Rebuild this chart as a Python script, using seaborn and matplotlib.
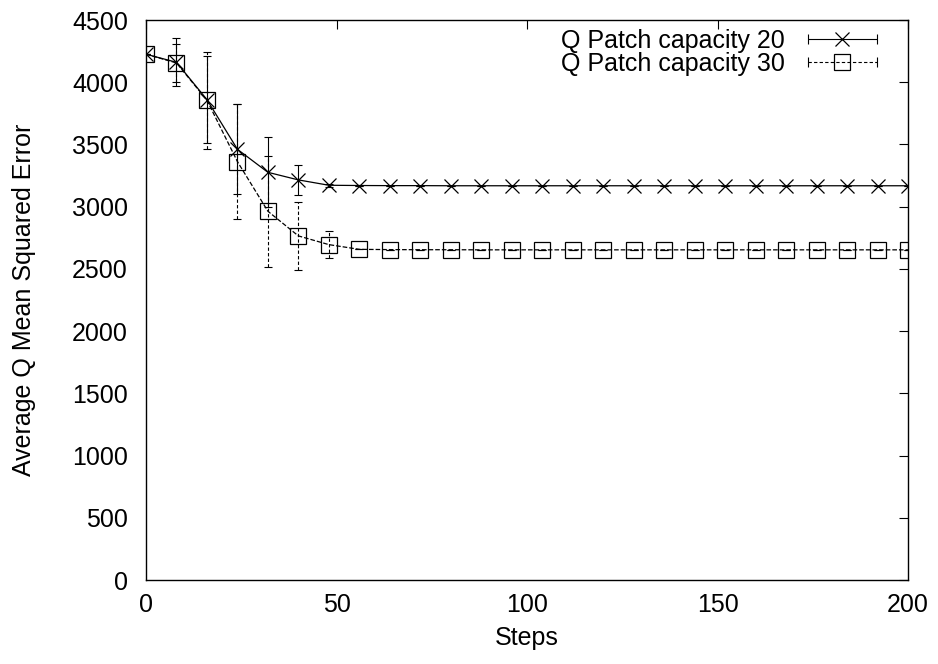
import numpy as np
import pandas as pd
import seaborn as sns
import matplotlib.pyplot as plt
from matplotlib.lines import Line2D
from matplotlib.legend_handler import HandlerBase

# Steps at which the error was measured
steps = list(range(0, 201, 8))

# Q Patch capacity 20: mean and spread
cap20_mean = [4225, 4160, 3860, 3461, 3276, 3215, 3172, 3170, 3169, 3169,
              3168, 3168, 3168, 3168, 3168, 3168, 3168, 3168, 3168, 3168,
              3168, 3168, 3168, 3168, 3168, 3168]
cap20_err = [0, 192, 348, 362, 282, 123, 10, 0, 0, 0,
             0, 0, 0, 0, 0, 0, 0, 0, 0, 0,
             0, 0, 0, 0, 0, 0]

# Q Patch capacity 30: mean and spread
cap30_mean = [4225, 4155, 3855, 3362, 2963, 2765, 2695, 2657, 2655, 2654,
              2654, 2653, 2653, 2653, 2653, 2653, 2653, 2653, 2653, 2653,
              2653, 2653, 2653, 2653, 2653, 2653]
cap30_err = [0, 150, 390, 463, 445, 275, 108, 0, 0, 0,
             0, 0, 0, 0, 0, 0, 0, 0, 0, 0,
             0, 0, 0, 0, 0, 0]

labels = ['Q Patch capacity 20', 'Q Patch capacity 30']

df = pd.DataFrame({
    'Steps': steps * 2,
    'MSE': cap20_mean + cap30_mean,
    'err': cap20_err + cap30_err,
    'series': [labels[0]] * len(steps) + [labels[1]] * len(steps),
})

FS = 18

sns.set_style('white')
plt.rcParams['font.family'] = ['Liberation Sans', 'DejaVu Sans']
plt.rcParams['font.size'] = FS
plt.rcParams['text.color'] = 'black'
plt.rcParams['axes.labelcolor'] = 'black'


# gnuplot-like legend sample: line with caps at both ends and marker in the middle
class CapHandler(HandlerBase):
    def __init__(self, ls, marker, ms):
        super().__init__()
        self.ls = ls
        self.marker = marker
        self.ms = ms

    def create_artists(self, legend, orig_handle, xdescent, ydescent,
                       width, height, fontsize, trans):
        y = height / 2 - ydescent
        x0, x1 = -xdescent, width - xdescent
        line = Line2D([x0, x1], [y, y], color='black', lw=0.8, ls=self.ls)
        caps = Line2D([x0, x1], [y, y], ls='none', marker='|', ms=6.5,
                      mew=0.8, color='black')
        mk = Line2D([(x0 + x1) / 2], [y], ls='none', marker=self.marker,
                    ms=self.ms, mew=0.9, mfc='none', mec='black')
        for a in (line, caps, mk):
            a.set_transform(trans)
        return [line, caps, mk]


fig = plt.figure(figsize=(9.38, 6.64), dpi=100)
ax = fig.add_axes([146 / 938, 1 - 580 / 664, 762 / 938, 560 / 664])

styles = {labels[0]: ('-', 'x', 10), labels[1]: ('--', 's', 11.5)}
handles = []
for name in labels:
    ls, mk, ms = styles[name]
    sub = df[df['series'] == name]
    ax.errorbar(sub['Steps'], sub['MSE'], yerr=sub['err'], fmt='none',
                ecolor='black', elinewidth=0.8, capsize=3.2, capthick=0.8,
                ls=ls)
    sns.lineplot(data=sub, x='Steps', y='MSE', ax=ax, color='black',
                 lw=0.9, linestyle=ls, marker=mk, markersize=ms,
                 markeredgewidth=0.9, markerfacecolor='none',
                 markeredgecolor='black', legend=False)
    handles.append(Line2D([], [], color='black'))

# dashed error bars for the second series
for coll in ax.collections[1:]:
    coll.set_linestyle((0, (3, 2)))

ax.set_xlim(0, 200)
ax.set_ylim(0, 4500)
ax.set_xticks([0, 50, 100, 150, 200])
ax.set_yticks(np.arange(0, 4501, 500))
ax.tick_params(direction='in', length=6.5, width=0.8, top=True, right=True,
               labelsize=FS, colors='black')
ax.tick_params(axis='x', pad=9)
ax.tick_params(axis='y', pad=13)
for sp in ax.spines.values():
    sp.set_linewidth(1.0)
    sp.set_color('black')

ax.set_xlabel('Steps', fontsize=FS, labelpad=7)
ax.set_ylabel('Average Q Mean Squared Error', fontsize=FS, labelpad=26)

ax.legend(handles, labels,
          handler_map={handles[0]: CapHandler('-', 'x', 10),
                       handles[1]: CapHandler((0, (3, 2)), 's', 11.5)},
          loc='upper right', bbox_to_anchor=(0.9724, 1.0026),
          borderaxespad=0, frameon=False, markerfirst=False,
          handlelength=2.76, handletextpad=0.92, labelspacing=-0.04,
          fontsize=FS)

fig.savefig('out.png', dpi=100)
